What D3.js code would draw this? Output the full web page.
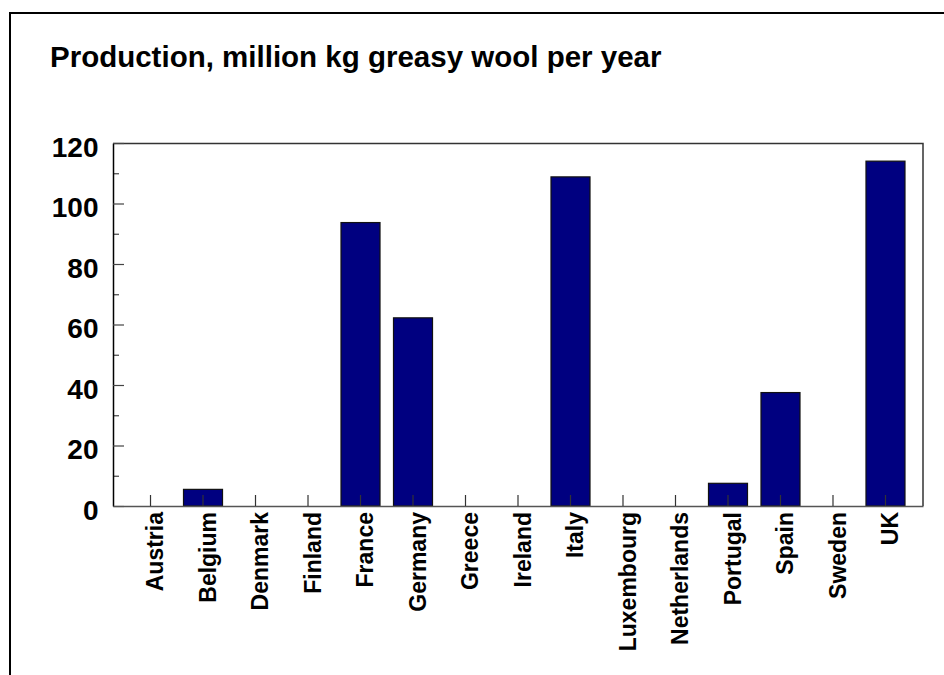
<!DOCTYPE html>
<html>
<head>
<meta charset="utf-8">
<script src="https://cdn.jsdelivr.net/npm/d3@7"></script>
<style>
  html, body { margin: 0; padding: 0; background: #fff; overflow: hidden; }
  svg { display: block; }
  text { font-family: "Liberation Sans", Arial, sans-serif; font-weight: bold; fill: #000; }
</style>
</head>
<body>
<div id="chart"></div>
<script>
//data
const countries = ["Austria", "Belgium", "Denmark", "Finland", "France", "Germany", "Greece",
  "Ireland", "Italy", "Luxembourg", "Netherlands", "Portugal", "Spain", "Sweden", "UK"];
const production = [0, 5.5, 0, 0, 93.7, 62.2, 0, 0, 108.8, 0, 0, 7.5, 37.5, 0, 114];
const majorTicks = [0, 20, 40, 60, 80, 100, 120];
const minorTicks = [10, 30, 50, 70, 90, 110];
const title = "Production, million kg greasy wool per year";

//size
const width = 944, height = 675;
const margin = { top: 143, right: 21, bottom: 169, left: 113 };
const innerWidth = width - margin.left - margin.right;
const innerHeight = height - margin.top - margin.bottom;

//scale
const xScale = d3.scaleBand().domain(countries).range([margin.left, margin.left + innerWidth])
  .paddingInner(0.257).paddingOuter(0.343);
const yScale = d3.scaleLinear().domain([0, 120]).range([margin.top + innerHeight, margin.top]);

//create element
const svg = d3.select("#chart").append("svg")
  .attr("width", width).attr("height", height);

// outer frame, only left and top edges are inside the window
svg.append("path")
  .attr("d", `M10,${height}V13H${width}`)
  .attr("fill", "none").attr("stroke", "#000").attr("stroke-width", 2);

svg.append("text")
  .attr("x", 50).attr("y", 67)
  .attr("font-size", 29.5)
  .text(title);

// plot frame top + right
svg.append("path")
  .attr("d", `M${margin.left},${margin.top + 0.5}H${margin.left + innerWidth}V${margin.top + innerHeight}`)
  .attr("fill", "none").attr("stroke", "#333").attr("stroke-width", 1.5);

//mark
svg.append("g").attr("class", "mark")
  .selectAll("rect")
  .data(countries.map((c, i) => ({ country: c, value: production[i] })).filter((d) => d.value > 0))
  .join("rect")
  .attr("x", (d) => xScale(d.country))
  .attr("y", (d) => yScale(d.value))
  .attr("width", xScale.bandwidth())
  .attr("height", (d) => yScale(0) - yScale(d.value))
  .attr("fill", "#000080")
  .attr("stroke", "#111")
  .attr("stroke-width", 1.2);

//y-axis minor
svg.append("g")
  .attr("transform", `translate(${margin.left},0)`)
  .call(d3.axisLeft(yScale).tickValues(minorTicks).tickSize(-6).tickFormat(""))
  .call((s) => s.select(".domain").remove())
  .call((s) => s.selectAll(".tick line").attr("stroke", "#444").attr("stroke-width", 1.2));

//y-axis
svg.append("g")
  .attr("transform", `translate(${margin.left},0)`)
  .call(d3.axisLeft(yScale).tickValues(majorTicks).tickSize(-11).tickSizeOuter(0).tickPadding(14.5))
  .call((s) => s.select(".domain").attr("stroke", "#000").attr("stroke-width", 1.5))
  .call((s) => s.selectAll(".tick line").attr("stroke", "#444").attr("stroke-width", 1.2))
  .call((s) => s.selectAll(".tick text")
    .attr("font-size", 28).attr("font-family", null).attr("dy", "0.48em"));

//x-axis
svg.append("g")
  .attr("transform", `translate(0,${margin.top + innerHeight})`)
  .call(d3.axisBottom(xScale).tickSize(-11).tickSizeOuter(0))
  .call((s) => s.select(".domain").attr("stroke", "#555").attr("stroke-width", 1.5))
  .call((s) => s.selectAll(".tick line").attr("stroke", "#333").attr("stroke-width", 1.2))
  .call((s) => s.selectAll(".tick text")
    .attr("font-size", 23).attr("font-family", null)
    .attr("transform", "rotate(-90)")
    .attr("text-anchor", "end")
    .attr("x", -6).attr("y", 0)
    .attr("dy", "0.55em"));

svg.selectAll(".tick text").attr("fill", "#000");
</script>
</body>
</html>
